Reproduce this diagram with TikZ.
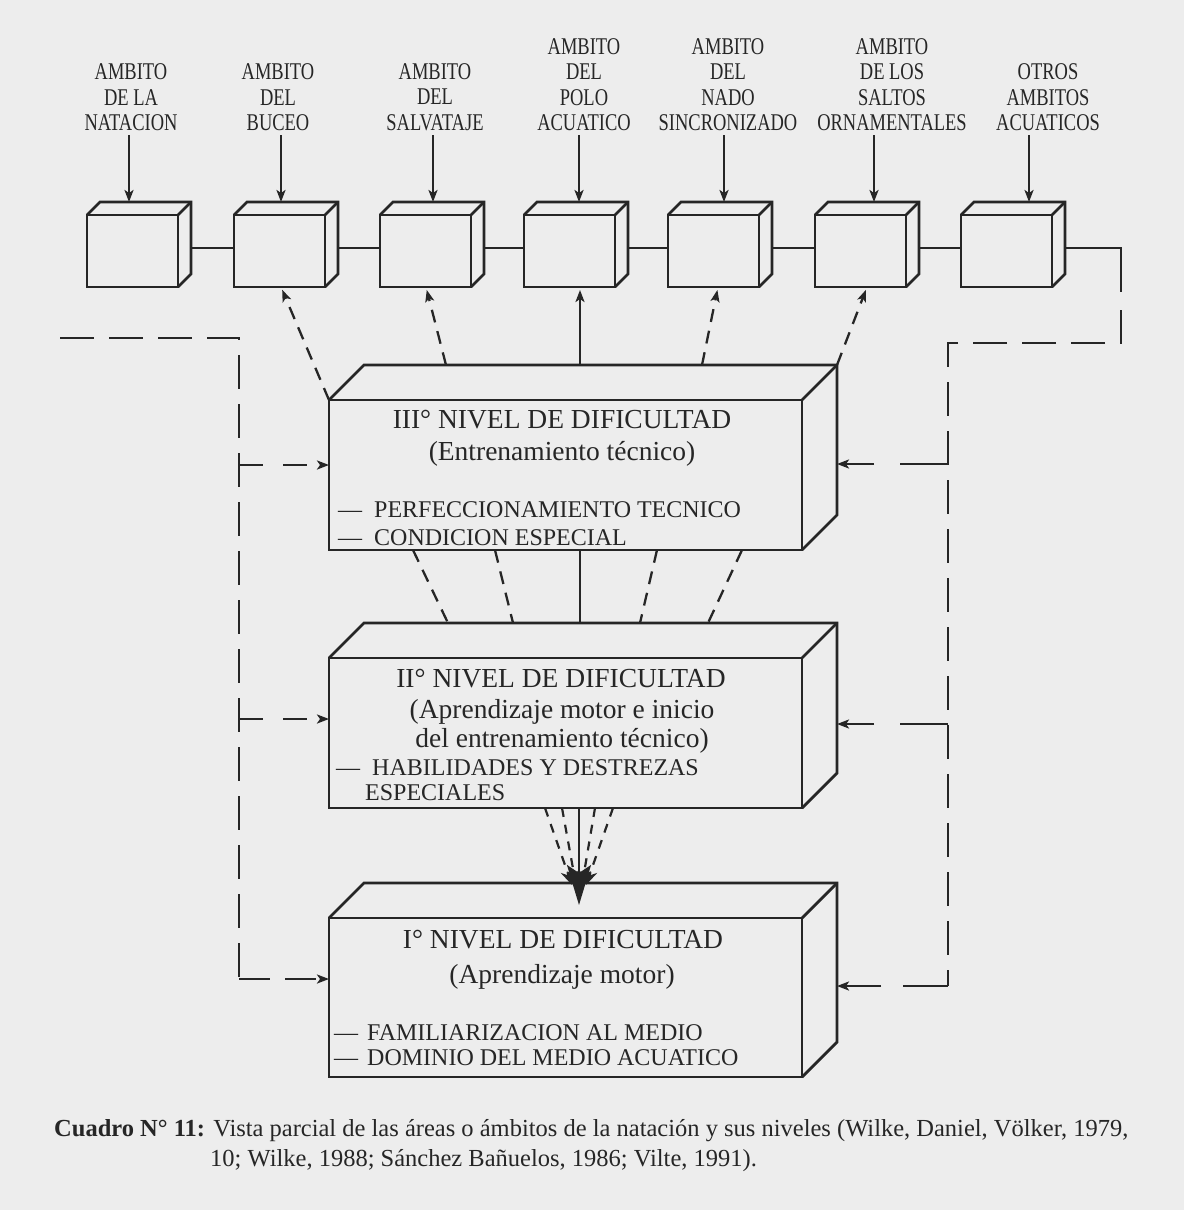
\documentclass[tikz,border=0pt]{standalone}
\usepackage{fontspec}
\setmainfont{Liberation Serif}
\newfontfamily\condfont[FakeStretch=0.77]{Liberation Serif}
\usetikzlibrary{arrows.meta,calc}
\definecolor{paper}{RGB}{237,237,237}
\definecolor{ink}{RGB}{38,38,38}
\begin{document}
\begin{tikzpicture}[x=1pt,y=-1pt,
  boxline/.style={draw=ink,line width=2.8pt,line join=miter},
  smallbox/.style={boxline,minimum width=91pt,minimum height=72pt,inner sep=0pt,outer sep=0pt},
  levelbox/.style={boxline,minimum width=473pt,inner sep=0pt,outer sep=0pt},
  conn/.style={draw=ink,line width=2.3pt},
  arr/.style={conn,-{Stealth[length=12pt,width=9pt,inset=3pt]}},
  shortdash/.style={dash pattern=on 13pt off 9pt},
  longdash/.style={dash pattern=on 34pt off 15pt},
  lab/.style={font=\condfont\fontsize{24}{25.5}\selectfont,align=center,anchor=south,inner sep=0pt,text=ink},
  titletext/.style={font=\fontsize{27.5}{30}\selectfont,anchor=base,inner sep=0pt,text=ink},
  itemtext/.style={font=\fontsize{24}{26}\selectfont,anchor=base west,inner sep=0pt,text=ink},
  captext/.style={font=\fontsize{24.5}{27}\selectfont,anchor=base west,inner sep=0pt,text=ink},
]
\fill[paper] (0,0) rectangle (1184,1210);
\useasboundingbox (0,0) rectangle (1184,1210);

% small boxes
\foreach \i/\L in {1/87,2/234,3/380,4/524,5/668,6/815,7/961}{
  \node[smallbox] (b\i) at (\L+45.5,251) {};
}
\foreach \i in {1,...,7}{
  \draw[boxline] (b\i.north west) -- ++(13,-13) -- ($(b\i.north east)+(13,-13)$) -- ($(b\i.south east)+(13,-13)$) -- (b\i.south east);
  \draw[boxline] (b\i.north east) -- ++(13,-13);
}

% labels
\node[lab] (l1) at (131,131) {AMBITO\\DE LA\\NATACION};
\node[lab] (l2) at (278,131) {AMBITO\\DEL\\BUCEO};
\node[lab] (l3) at (435,131) {AMBITO\\DEL\\SALVATAJE};
\node[lab] (l4) at (584,131) {AMBITO\\DEL\\POLO\\ACUATICO};
\node[lab] (l5) at (728,131) {AMBITO\\DEL\\NADO\\SINCRONIZADO};
\node[lab] (l6) at (892,131) {AMBITO\\DE LOS\\SALTOS\\ORNAMENTALES};
\node[lab] (l7) at (1048,131) {OTROS\\AMBITOS\\ACUATICOS};

\foreach \i/\x in {1/129,2/281,3/433,4/579,5/724,6/874,7/1029}{
  \draw[arr,shorten <=4pt] (\x,0 |- l\i.south) -- ($(\x,0 |- b\i.north)+(0,-13)$);
}

% chain
\foreach \i/\j in {1/2,2/3,3/4,4/5,5/6,6/7}{
  \draw[conn] ($(b\i.east)+(13,-3)$) -- ($(b\j.west)+(0,-3)$);
}
\coordinate (rc1) at (1121,248);
\coordinate (rc2) at (1121,292);
\coordinate (rc3) at (1121,310);
\coordinate (rc4) at (1121,343);
\coordinate (rc5) at (948,343);
\coordinate (rc6) at (948,986);
\draw[conn] ($(b7.east)+(13,-3)$) -- (rc1) -- (rc2);
\draw[conn,longdash] (rc3) -- (rc4) -- (rc5) -- (rc6);

% level boxes
\node[levelbox,minimum height=150pt] (L3) at (565.5,475) {};
\node[levelbox,minimum height=150pt] (L2) at (565.5,733) {};
\node[levelbox,minimum height=159pt] (L1) at (565.5,997.5) {};
\foreach \n in {L1,L2,L3}{
  \draw[boxline] (\n.north west) -- ++(35,-35) -- ($(\n.north east)+(35,-35)$) -- ($(\n.south east)+(35,-35)$) -- (\n.south east);
  \draw[boxline] (\n.north east) -- ++(35,-35);
}
\coordinate (L3t) at ($(L3.north)+(0,-35)$);
\coordinate (L2t) at ($(L2.north)+(0,-35)$);
\coordinate (L1t) at ($(L1.north)+(0,-35)$);

% right branches
\coordinate (r3) at (948,464);
\coordinate (r2) at (948,724);
\draw[arr,dash pattern=on 48pt off 26pt] (r3) -- ($(r3 -| L3.east)+(35,0)$);
\draw[arr,dash pattern=on 48pt off 26pt] (r2) -- ($(r2 -| L2.east)+(35,0)$);
\draw[arr,dash pattern=on 45pt off 22pt] (rc6) -- ($(rc6 -| L1.east)+(35,0)$);

% left path
\coordinate (lt) at (60,338);
\coordinate (lc) at (239,338);
\coordinate (lb) at (239,979);
\coordinate (l3b) at (239,465);
\coordinate (l2b) at (239,719);
\draw[conn,longdash] (lt) -- (lc) -- (lb);
\draw[arr,dash pattern=on 24pt off 20pt] (l3b) -- (l3b -| L3.west);
\draw[arr,dash pattern=on 24pt off 20pt] (l2b) -- (l2b -| L2.west);
\draw[arr,dash pattern=on 31pt off 15pt] (lb) -- (lb -| L1.west);

% level III up to boxes
\draw[arr,shortdash,shorten >=3pt] (L3.north west) -- (281,0 |- b2.south);
\draw[arr,shortdash,shorten >=3pt] (446,0 |- L3t) -- (426,0 |- b3.south);
\draw[arr,shorten >=3pt] (580,0 |- L3t) -- (580,0 |- b4.south);
\draw[arr,shortdash,shorten >=3pt] (702,0 |- L3t) -- (718,0 |- b5.south);
\draw[arr,shortdash,shorten >=3pt] ($(L3.north east)+(35,-35)$) -- (867,0 |- b6.south);

% III -> II
\draw[conn,shortdash] (413,0 |- L3.south) -- (448,0 |- L2t);
\draw[conn,shortdash] (495,0 |- L3.south) -- (513,0 |- L2t);
\draw[conn] (580,0 |- L3.south) -- (580,0 |- L2t);
\draw[conn,shortdash] (657,0 |- L3.south) -- (640,0 |- L2t);
\draw[conn,shortdash] (742,0 |- L3.south) -- (708,0 |- L2t);

% II -> I
\foreach \sx/\ex in {545/572,562/576,595/582,613/586}{
  \draw[conn,line width=2.2pt,dash pattern=on 9pt off 8pt,-{Stealth[length=15pt,width=13pt]}] (\sx,0 |- L2.south) -- ($(\ex,0 |- L1t)+(0,2)$);
}
\draw[conn,-{Stealth[length=40pt,width=24pt,inset=8pt]}] (579,0 |- L2.south) -- ($(579,0 |- L1t)+(0,22)$);

% texts
\node[titletext] (t3) at (562,428) {III° NIVEL DE DIFICULTAD};
\node[titletext] (t3b) at (562,460) {(Entrenamiento técnico)};
\node[itemtext] (i3a) at (338,517) {—\hspace{12pt}PERFECCIONAMIENTO TECNICO};
\node[itemtext] (i3b) at (338,545) {—\hspace{12pt}CONDICION ESPECIAL};

\node[titletext] (t2) at (561,687) {II° NIVEL DE DIFICULTAD};
\node[titletext] (t2b) at (562,718) {(Aprendizaje motor e inicio};
\node[titletext] (t2c) at (562,747) {del entrenamiento técnico)};
\node[itemtext] (i2a) at (336,775) {—\hspace{12pt}HABILIDADES Y DESTREZAS};
\node[itemtext] (i2b) at (365,800) {ESPECIALES};

\node[titletext] (t1) at (563,948) {I° NIVEL DE DIFICULTAD};
\node[titletext] (t1b) at (562,983) {(Aprendizaje motor)};
\node[itemtext] (i1a) at (334,1040) {—\hspace{9pt}FAMILIARIZACION AL MEDIO};
\node[itemtext] (i1b) at (334,1065) {—\hspace{9pt}DOMINIO DEL MEDIO ACUATICO};

% caption
\node[captext] (c1) at (54,1136) {\textbf{Cuadro N° 11:} Vista parcial de las áreas o ámbitos de la natación y sus niveles (Wilke, Daniel, Völker, 1979,};
\node[captext] (c2) at (210,1166) {10; Wilke, 1988; Sánchez Bañuelos, 1986; Vilte, 1991).};
\end{tikzpicture}
\end{document}
